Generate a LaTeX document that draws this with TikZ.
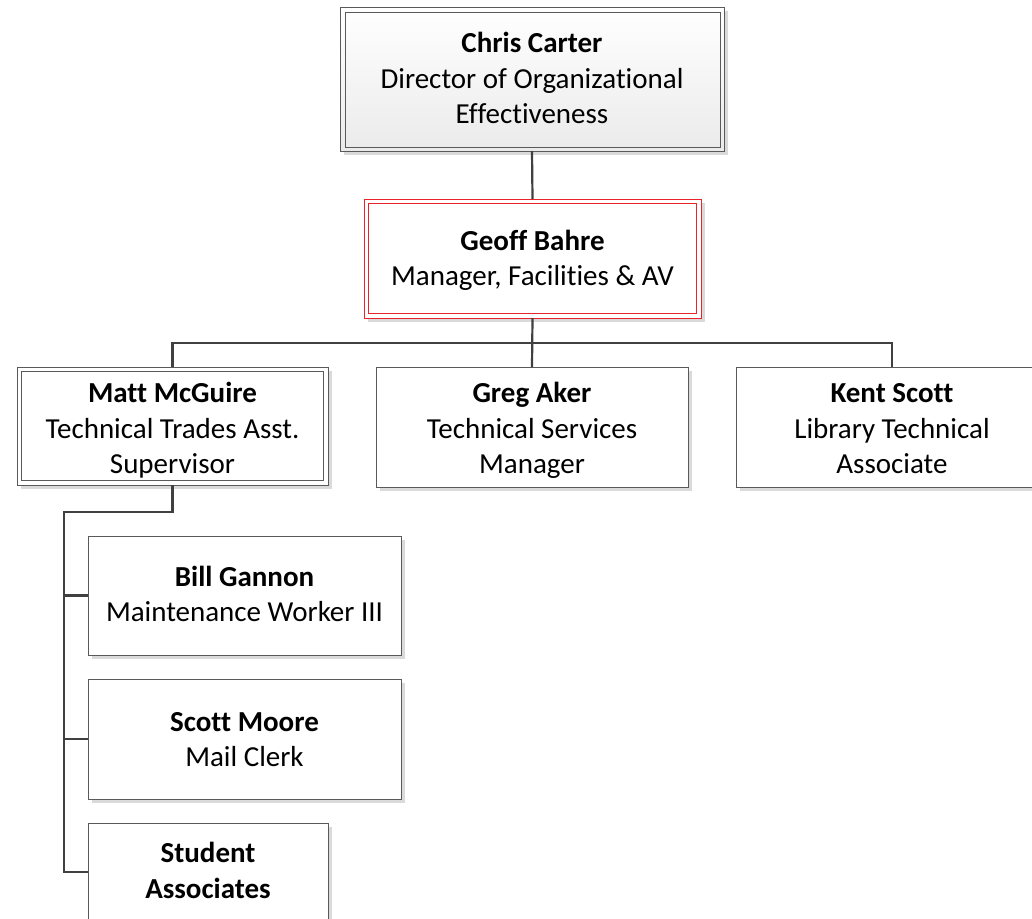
\documentclass[tikz,border=0pt]{standalone}
\usepackage{fontspec}
\setmainfont[Ligatures={NoCommon}]{Carlito}
\usetikzlibrary{shadows}
\definecolor{boxline}{HTML}{5A5A5A}
\definecolor{conn}{HTML}{404040}
\definecolor{redline}{HTML}{E8232B}
\definecolor{shade}{HTML}{DADADA}
\begin{document}
\begin{tikzpicture}[x=1pt,y=-1pt,
  box/.style={draw=boxline, line width=0.9pt, fill=white, inner sep=0pt, outer sep=0pt,
    drop shadow={shadow xshift=4pt, shadow yshift=-4pt, fill=shade, opacity=1}},
  txt/.style={align=center, inner sep=0pt, font=\fontsize{29}{35.5}\selectfont, text=black},
  wire/.style={draw=conn, line width=2.2pt}]
\useasboundingbox (0,0) rectangle (1032,918);
\clip (0,0) rectangle (1032,918);

% Chris Carter
\node[box, minimum width=384pt, minimum height=144pt, top color=white, bottom color=black!8] (chris) at (532,79) {};
\draw[boxline, line width=0.9pt] ([shift={(5pt,-5pt)}]chris.north west) rectangle ([shift={(-4pt,4pt)}]chris.south east);
\node[txt] (chris-t) at (532,81) {\strut\textbf{Chris Carter}\\Director of Organizational\\Effectiveness\strut};

% Geoff Bahre
\node[box, draw=redline, minimum width=337pt, minimum height=119pt] (geoff) at (532.5,258.5) {};
\draw[redline, line width=0.9pt] ([shift={(4.5pt,-4.5pt)}]geoff.north west) rectangle ([shift={(-4.5pt,4.5pt)}]geoff.south east);
\node[txt] (geoff-t) at (532.5,261) {\strut\textbf{Geoff Bahre}\\Manager, Facilities \& AV\strut};

% Second row
\node[box, minimum width=311pt, minimum height=118pt] (matt) at (172.5,426) {};
\draw[boxline, line width=0.9pt] ([shift={(4.5pt,-4.5pt)}]matt.north west) rectangle ([shift={(-4.5pt,4.5pt)}]matt.south east);
\node[txt] (matt-t) at (172.5,431) {\strut\textbf{Matt McGuire}\\Technical Trades Asst.\\Supervisor\strut};

\node[box, minimum width=312pt, minimum height=120pt] (greg) at (532,427) {};
\node[txt] (greg-t) at (532,431) {\strut\textbf{Greg Aker}\\Technical Services\\Manager\strut};

\node[box, minimum width=312pt, minimum height=120pt] (kent) at (892,427) {};
\node[txt] (kent-t) at (892,431) {\strut\textbf{Kent Scott}\\Library Technical\\Associate\strut};

% Third column
\node[box, minimum width=313pt, minimum height=119pt] (bill) at (244.5,595.5) {};
\node[txt] (bill-t) at (244.5,597) {\strut\textbf{Bill Gannon}\\Maintenance Worker III\strut};

\node[box, minimum width=313pt, minimum height=120pt] (scott) at (244.5,739) {};
\node[txt] (scott-t) at (244.5,742) {\strut\textbf{Scott Moore}\\Mail Clerk\strut};

\node[box, minimum width=240pt, minimum height=98pt] (student) at (208,872) {};
\node[txt] (student-t) at (208,873.5) {\strut\textbf{Student}\\\textbf{Associates}\strut};

% Connectors
\coordinate (bus) at (532,343);
\coordinate (spine) at (64,512);
\draw[wire] (chris.south) -- (geoff.north);
\draw[wire] (geoff.south) -- (greg.north);
\draw[wire] (matt.north) |- (bus) -| (kent.north);
\draw[wire] (matt.south) |- (spine) |- (student.west);
\draw[wire] (spine |- bill.west) -- (bill.west);
\draw[wire] (spine |- scott.west) -- (scott.west);
\end{tikzpicture}
\end{document}
